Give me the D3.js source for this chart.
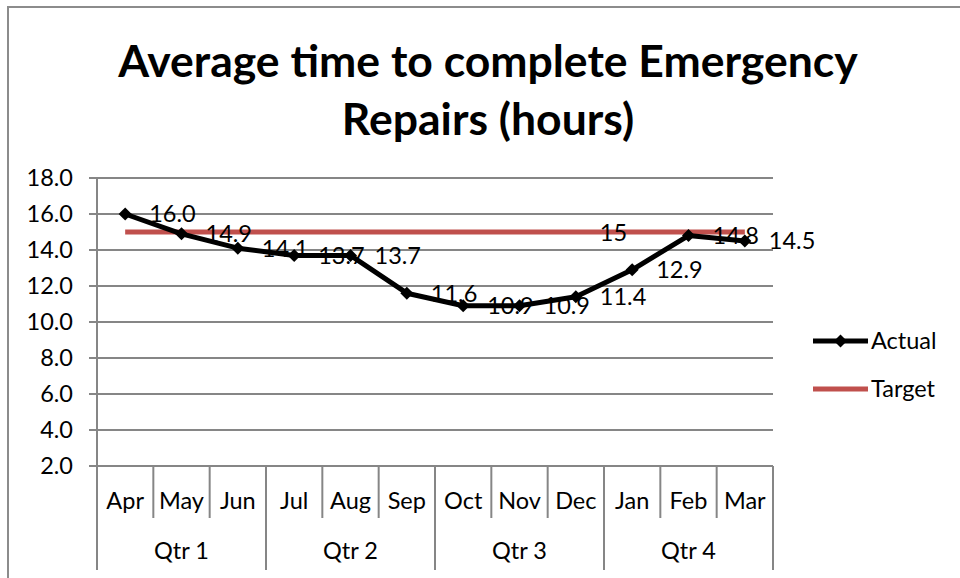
<!DOCTYPE html>
<html><head><meta charset="utf-8">
<script src="https://cdn.jsdelivr.net/npm/d3@7"></script>
<style>body{margin:0;background:#fff}svg{display:block}text{font-family:Lato,"Open Sans",sans-serif;fill:#000}</style>
</head><body><svg id="c" width="960" height="578"></svg>
<script>
const months = ["Apr","May","Jun","Jul","Aug","Sep","Oct","Nov","Dec","Jan","Feb","Mar"];
const quarters = ["Qtr 1","Qtr 2","Qtr 3","Qtr 4"];
const actual = [16.0,14.9,14.1,13.7,13.7,11.6,10.9,10.9,11.4,12.9,14.8,14.5];
const target = [15,15,15,15,15,15,15,15,15,15,15,15];
const yTicks = [2,4,6,8,10,12,14,16,18];
const titleLines = ["Average time to complete Emergency","Repairs (hours)"];
const seriesNames = ["Actual","Target"];

const svg = d3.select("#c");
const L=97,R=773,T=178,B=466, FS=23.5;
const x = d3.scaleBand().domain(months).range([L,R]);
const cx = m => x(m)+x.bandwidth()/2;
const y = d3.scaleLinear().domain([2,18]).range([B,T]);
const grey="#868686", red="#C0504D";

svg.append("rect").attr("x",8).attr("y",7).attr("width",1000).attr("height",700)
  .attr("fill","none").attr("stroke","#8c8c8c").attr("stroke-width",2);

// title
svg.append("g").selectAll("text").data(titleLines).join("text")
  .attr("x",488).attr("y",(d,i)=>77+i*58).attr("text-anchor","middle")
  .attr("font-size",44.5).attr("font-weight","bold").text(d=>d);

// gridlines
svg.append("g").selectAll("line").data(yTicks).join("line")
  .attr("x1",89).attr("x2",R).attr("y1",d=>y(d)).attr("y2",d=>y(d))
  .attr("stroke",grey).attr("stroke-width",2);
// y labels
svg.append("g").selectAll("text").data(yTicks).join("text")
  .attr("x",73).attr("y",d=>y(d)).attr("dy","0.36em").attr("text-anchor","end")
  .attr("font-size",FS).text(d=>d3.format(".1f")(d));
// y axis
svg.append("line").attr("x1",L).attr("x2",L).attr("y1",T).attr("y2",B).attr("stroke",grey).attr("stroke-width",2);

// category separators
const bounds = d3.range(13);
svg.append("g").selectAll("line").data(bounds).join("line")
  .attr("x1",i=>L+i*x.step()).attr("x2",i=>L+i*x.step())
  .attr("y1",B).attr("y2",i=>i%3===0?570:518)
  .attr("stroke",grey).attr("stroke-width",2);
svg.append("g").selectAll("text").data(months).join("text")
  .attr("x",cx).attr("y",501).attr("dy","0.36em").attr("text-anchor","middle").attr("font-size",FS).text(d=>d);
svg.append("g").selectAll("text").data(quarters).join("text")
  .attr("x",(d,i)=>L+(i*3+1.5)*x.step()).attr("y",551).attr("dy","0.36em").attr("text-anchor","middle").attr("font-size",FS).text(d=>d);

// target line
const line = d3.line().x((d,i)=>cx(months[i])).y(d=>y(d));
svg.append("path").datum(target).attr("d",line).attr("fill","none").attr("stroke",red).attr("stroke-width",5);
// actual line
svg.append("path").datum(actual).attr("d",line).attr("fill","none").attr("stroke","#000").attr("stroke-width",5).attr("stroke-linejoin","round");
const diamond = d3.symbol().type(d3.symbolSquare).size(85);
svg.append("g").selectAll("path").data(actual).join("path")
  .attr("d",diamond).attr("transform",(d,i)=>`translate(${cx(months[i])},${y(d)}) rotate(45)`).attr("fill","#000");
// labels
svg.append("g").selectAll("text").data(actual).join("text")
  .attr("x",(d,i)=>cx(months[i])+24).attr("y",d=>y(d)).attr("dy","0.36em")
  .attr("font-size",FS).text(d=>d3.format(".1f")(d));
svg.append("text").attr("x",cx("Dec")+24).attr("y",y(target[8])+1).attr("dy","0.36em")
  .attr("font-size",FS).text(target[8]);

// legend
const lg = svg.append("g");
seriesNames.forEach((n,i)=>{
  const yy = 341+i*48;
  lg.append("line").attr("x1",813).attr("x2",868).attr("y1",yy).attr("y2",yy)
    .attr("stroke",i===0?"#000":red).attr("stroke-width",5);
  if(i===0) lg.append("path").attr("d",diamond).attr("transform",`translate(840.5,${yy}) rotate(45)`).attr("fill","#000");
  lg.append("text").attr("x",871).attr("y",yy).attr("dy","0.36em").attr("font-size",FS).text(n);
});
</script></body></html>
